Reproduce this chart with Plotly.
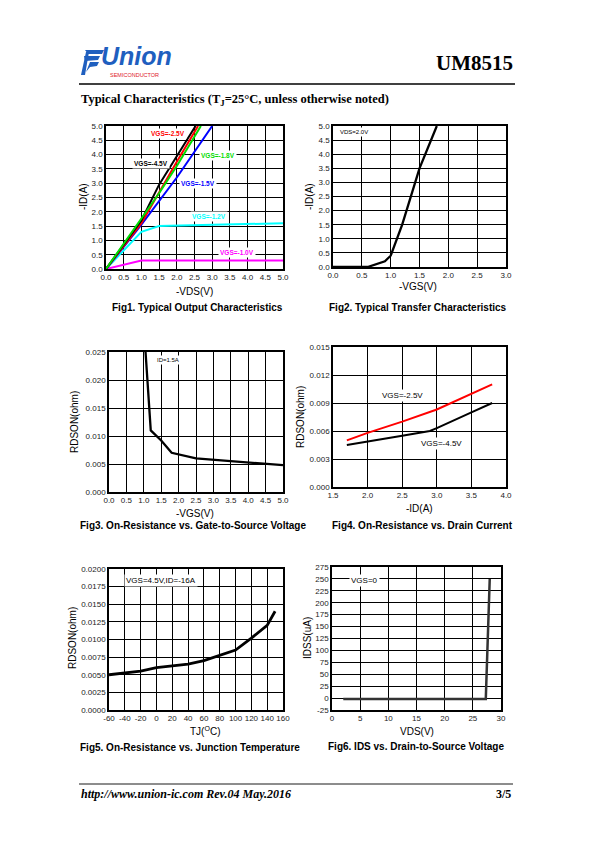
import plotly.graph_objects as go

OFF = 8  # browser default body margin
W, H = 595 - OFF, 842 - OFF

# ---------------- data ----------------
# Fig1: output characteristics (-VDS vs -ID)
f1_vgs45_x = [0, 1.0, 1.5, 2.0, 2.53]
f1_vgs45_y = [0, 1.7, 2.95, 3.95, 5.0]
f1_vgs25_x = [0, 1.0, 2.0, 2.6]
f1_vgs25_y = [0, 1.6, 3.75, 5.0]
f1_vgs18_x = [0, 1.0, 1.5, 2.0, 2.68]
f1_vgs18_y = [0, 1.75, 2.65, 3.6, 5.0]
f1_vgs15_x = [0, 1.0, 2.0, 3.0]
f1_vgs15_y = [0, 1.55, 3.2, 5.0]
f1_vgs12_x = [0, 1.0, 1.5, 3.0, 5.0]
f1_vgs12_y = [0, 1.3, 1.5, 1.55, 1.6]
f1_vgs10_x = [0, 1.0, 5.0]
f1_vgs10_y = [0, 0.3, 0.3]

# Fig2: transfer characteristics
f2_x = [0, 0.6, 0.9, 1.0, 1.2, 1.5, 1.8]
f2_y = [0, 0.0, 0.2, 0.4, 1.5, 3.5, 5.0]

# Fig3: RDSON vs VGS
f3_x = [1.05, 1.2, 1.5, 1.8, 2.5, 3.5, 5.0]
f3_y = [0.025, 0.011, 0.0092, 0.007, 0.006, 0.0055, 0.0048]

# Fig4: RDSON vs ID
f4_vgs25_x = [1.7, 2.0, 2.5, 2.9, 3.0, 3.8]
f4_vgs25_y = [0.005, 0.0058, 0.007, 0.008, 0.0083, 0.011]
f4_vgs45_x = [1.7, 2.0, 2.5, 2.9, 3.0, 3.5, 3.8]
f4_vgs45_y = [0.0045, 0.0049, 0.0055, 0.006, 0.0063, 0.008, 0.009]

# Fig5: RDSON vs TJ
f5_x = [-60, -40, -20, 0, 20, 40, 60, 80, 100, 120, 140, 150]
f5_y = [0.005, 0.0052, 0.0055, 0.006, 0.0062, 0.0065, 0.007, 0.0077, 0.0085, 0.0102, 0.012, 0.014]

# Fig6: IDSS vs VDS
f6_x = [2, 27.3, 28.0]
f6_y = [-2, -2, 250]

# tick labels
f5_xticks = list(range(-60, 161, 20))
f6_xticks = list(range(0, 31, 5))
f6_yticks = list(range(-25, 276, 25))

# ---------------- helpers ----------------
def xd(a, b):
    return [(a - OFF) / W, (b - OFF) / W]

def yd(top, bot):
    return [1 - (bot - OFF) / H, 1 - (top - OFF) / H]

def px(x, y):
    return (x - OFF) / W, 1 - (y - OFF) / H

TICKFONT = dict(family="Liberation Sans", size=8, color="#222")

def axis(domain, rng, dtick, anchor, fmt=None, tickvals=None):
    d = dict(domain=domain, range=rng, dtick=dtick, anchor=anchor,
             showgrid=True, gridcolor="black", gridwidth=1.3,
             showline=True, mirror=True, linecolor="black", linewidth=1.5,
             zeroline=False, ticks="", tickfont=TICKFONT, automargin=False,
             fixedrange=True, tickangle=0)
    if fmt:
        d["tickformat"] = fmt
    if tickvals is not None:
        d["tickmode"] = "array"
        d["tickvals"] = tickvals
        d["ticktext"] = [str(v) for v in tickvals]  # plain hyphen minus
    return d

fig = go.Figure()

def line(x, y, xa, ya, color="black", width=2):
    fig.add_trace(go.Scatter(x=x, y=y, mode="lines", xaxis=xa, yaxis=ya,
                             line=dict(color=color, width=width), showlegend=False,
                             hoverinfo="skip"))

# Fig1
line(f1_vgs10_x, f1_vgs10_y, "x", "y", "#ff00ff")
line(f1_vgs12_x, f1_vgs12_y, "x", "y", "#00ffff")
line(f1_vgs15_x, f1_vgs15_y, "x", "y", "#0000ff")
line(f1_vgs25_x, f1_vgs25_y, "x", "y", "#ff0000")
line(f1_vgs45_x, f1_vgs45_y, "x", "y", "black")
line(f1_vgs18_x, f1_vgs18_y, "x", "y", "#00dd00")
# Fig2
line(f2_x, f2_y, "x2", "y2", width=2.3)
# Fig3
line(f3_x, f3_y, "x3", "y3", width=2.3)
# Fig4
line(f4_vgs25_x, f4_vgs25_y, "x4", "y4", "#ff0000")
line(f4_vgs45_x, f4_vgs45_y, "x4", "y4", "black")
# Fig5
line(f5_x, f5_y, "x5", "y5", width=2.8)
# Fig6
line(f6_x, f6_y, "x6", "y6", color="#333", width=2.5)

layout = dict(
    width=W, height=H, margin=dict(l=0, r=0, t=0, b=0),
    paper_bgcolor="white", plot_bgcolor="white", showlegend=False,
    xaxis=axis(xd(106, 283), [0, 5], 0.5, "y", ".1f"),
    yaxis=axis(yd(126, 269), [0, 5], 0.5, "x", ".1f"),
    xaxis2=axis(xd(333, 506), [0, 3], 0.5, "y2", ".1f"),
    yaxis2=axis(yd(126, 267), [0, 5], 0.5, "x2", ".1f"),
    xaxis3=axis(xd(109, 283), [0, 5], 0.5, "y3", ".1f"),
    yaxis3=axis(yd(352, 492), [0, 0.025], 0.005, "x3", ".3f"),
    xaxis4=axis(xd(333, 506), [1.5, 4.0], 0.5, "y4", ".1f"),
    yaxis4=axis(yd(347, 487), [0, 0.015], 0.003, "x4", ".3f"),
    xaxis5=axis(xd(109, 283), [-60, 160], 20, "y5", None, f5_xticks),
    yaxis5=axis(yd(569, 710), [0, 0.02], 0.0025, "x5", ".4f"),
    xaxis6=axis(xd(332, 501), [0, 30], 5, "y6", None, f6_xticks),
    yaxis6=axis(yd(567, 710), [-25, 275], 25, "x6", None, f6_yticks),
)
fig.update_layout(**layout)

ann = []

def text(x, y, t, size=10, color="black", family="Liberation Sans", angle=0,
         xanchor="center", bold=False, italic=False):
    if bold:
        t = "<b>" + t + "</b>"
    if italic:
        t = "<i>" + t + "</i>"
    X, Y = px(x, y)
    ann.append(dict(x=X, y=Y, xref="paper", yref="paper", text=t, showarrow=False,
                    font=dict(size=size, color=color, family=family), textangle=angle,
                    xanchor=xanchor, yanchor="middle"))

def dlabel(xa, ya, x, y, t, color="black", size=6.5, bold=True):
    ann.append(dict(x=x, y=y, xref=xa, yref=ya, text=("<b>%s</b>" % t) if bold else t,
                    showarrow=False, bgcolor="white", borderpad=1,
                    font=dict(size=size, color=color, family="Liberation Sans")))

# series labels
dlabel("x", "y", 1.75, 4.73, "VGS=-2.5V", "#ff0000")
dlabel("x", "y", 1.27, 3.7, "VGS=-4.5V", "black")
dlabel("x", "y", 3.15, 3.97, "VGS=-1.8V", "#00dd00")
dlabel("x", "y", 2.6, 2.98, "VGS=-1.5V", "#0000ff")
dlabel("x", "y", 2.9, 1.85, "VGS=-1.2V", "#00ffff")
dlabel("x", "y", 3.7, 0.58, "VGS=-1.0V", "#ff00ff")
dlabel("x2", "y2", 0.37, 4.8, "VDS=2.0V", "black", 6, False)
dlabel("x3", "y3", 1.7, 0.0235, "ID=1.5A", "black", 6, False)
dlabel("x4", "y4", 2.5, 0.0098, "VGS=-2.5V", "black", 8, False)
dlabel("x4", "y4", 3.07, 0.0047, "VGS=-4.5V", "black", 8, False)
dlabel("x5", "y5", 6, 0.0183, "VGS=4.5V,ID=-16A", "black", 8, False)
dlabel("x6", "y6", 5.8, 247, "VGS=0", "black", 8, False)

# axis titles
text(83, 197, "-ID(A)", 10, angle=-90)
text(194, 291, "-VDS(V)", 10)
text(309, 197, "-ID(A)", 10, angle=-90)
text(418, 287, "-VGS(V)", 10)
text(74, 422, "RDSON(ohm)", 10, angle=-90)
text(195, 513, "-VGS(V)", 10)
text(300, 417, "RDSON(ohm)", 10, angle=-90)
text(419, 508, "-ID(A)", 10)
text(72, 638, "RDSON(ohm)", 10, angle=-90)
text(205, 731, "TJ(<sup>O</sup>C)", 10)
text(307, 638, "IDSS(uA)", 10, angle=-90)
text(417, 731, "VDS(V)", 10)

# captions
text(198, 307, "Fig1. Typical Output Characteristics", 10, bold=True)
text(418, 307, "Fig2. Typical Transfer Characteristics", 10, bold=True)
text(193, 525, "Fig3. On-Resistance vs. Gate-to-Source Voltage", 10, bold=True)
text(422, 525, "Fig4. On-Resistance vs. Drain Current", 10, bold=True)
text(190, 747, "Fig5. On-Resistance vs. Junction Temperature", 10, bold=True)
text(416, 746, "Fig6. IDS vs. Drain-to-Source Voltage", 10, bold=True)

# header / footer
text(515, 63, "UM8515", 21, family="Liberation Serif", xanchor="right", bold=True)
text(79, 100, "Typical Characteristics (T<sub>J</sub>=25°C, unless otherwise noted)", 12.5,
     family="Liberation Serif", xanchor="left", bold=True)
text(79, 794, "http://www.union-ic.com Rev.04 May.2016", 12, family="Liberation Serif",
     xanchor="left", bold=True, italic=True)
text(513, 794, "3/5", 12, family="Liberation Serif", xanchor="right", bold=True)
# logo
text(99, 56, "Union", 25, color="#1f5fbf", family="Liberation Sans", xanchor="left",
     bold=True, italic=True)
text(108, 75.5, "SEMICONDUCTOR", 5.5, color="#e0202a", family="Liberation Sans", xanchor="left")

fig.update_layout(annotations=ann)

# shapes: rules and logo swoosh
shapes = []
def hline(x0, x1, y, w=1.2):
    X0, Y = px(x0, y)
    X1, _ = px(x1, y)
    shapes.append(dict(type="line", xref="paper", yref="paper", x0=X0, x1=X1, y0=Y, y1=Y,
                       line=dict(color="black", width=w)))
hline(79, 515, 84, 1.3)
hline(79, 513, 784, 0.9)

def path_px(pts, color):
    s = ""
    for i, (x, y) in enumerate(pts):
        X, Y = px(x, y)
        s += ("M" if i == 0 else "L") + "%f,%f " % (X, Y)
    s += "Z"
    shapes.append(dict(type="path", xref="paper", yref="paper", path=s,
                       fillcolor=color, line=dict(width=0)))
path_px([(85, 50), (104, 50), (102, 54), (88, 54)], "#1f5fbf")
path_px([(84, 56), (100, 56), (98, 60), (85, 61)], "#1f5fbf")
path_px([(81, 75), (86, 52), (89, 52), (85, 75)], "#1f5fbf")
path_px([(86, 72), (90, 62), (99, 62), (97, 66), (90, 67)], "#1f5fbf")
fig.update_layout(shapes=shapes)

fig.write_html("out.html")
